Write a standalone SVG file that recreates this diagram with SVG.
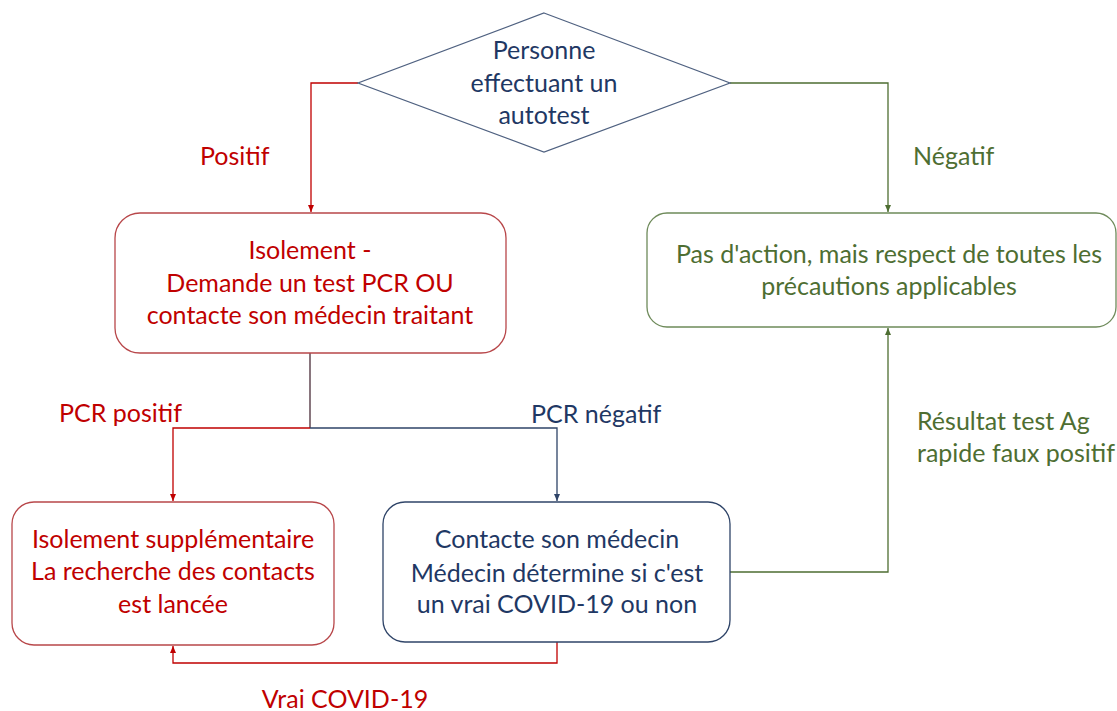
<svg xmlns="http://www.w3.org/2000/svg" width="1117" height="711" viewBox="0 0 1117 711">
<style>
text{font-family:Lato,"Open Sans","Liberation Sans",sans-serif;font-size:25px}
.c{text-anchor:middle}
.red{fill:#C00000}
.grn{fill:#4E6E32}
.nav{fill:#1F3864}
.box{fill:#fff;stroke-width:1.3}
.ln{fill:none;stroke-width:1.3}
</style>
<defs>
<marker id="aR" markerUnits="userSpaceOnUse" markerWidth="8" markerHeight="8" refX="7" refY="4" orient="auto"><path d="M0,1 L7,4 L0,7 Z" fill="#C00000"/></marker>
<marker id="aG" markerUnits="userSpaceOnUse" markerWidth="8" markerHeight="8" refX="7" refY="4" orient="auto"><path d="M0,1 L7,4 L0,7 Z" fill="#4E6E32"/></marker>
<marker id="aB" markerUnits="userSpaceOnUse" markerWidth="8" markerHeight="8" refX="7" refY="4" orient="auto"><path d="M0,1 L7,4 L0,7 Z" fill="#2F4468"/></marker>
</defs>
<rect width="1117" height="711" fill="#fff"/>
<g id="connectors">
<path class="ln" d="M358,83 H311 V212" stroke="#C00000" marker-end="url(#aR)"/>
<path class="ln" d="M730,83 H888 V212" stroke="#4E6E32" marker-end="url(#aG)"/>
<path class="ln" d="M310,353 V428" stroke="#4a2c38"/>
<path class="ln" d="M310,428 H173 V501" stroke="#C00000" marker-end="url(#aR)"/>
<path class="ln" d="M310,428 H557 V501" stroke="#2F4468" marker-end="url(#aB)"/>
<path class="ln" d="M730,572 H888 V328" stroke="#4E6E32" marker-end="url(#aG)"/>
<path class="ln" d="M557,642 V663 H173 V646" stroke="#C00000" marker-end="url(#aR)"/>
<text class="red" x="200" y="165">Positif</text>
<text class="grn" x="913" y="165">Négatif</text>
<text class="red" x="59" y="422">PCR positif</text>
<text class="nav" x="531" y="423">PCR négatif</text>
<text class="grn" x="917" y="430">Résultat test Ag</text>
<text class="grn" x="917" y="462">rapide faux positif</text>
<text class="red c" x="345" y="708">Vrai COVID-19</text>
</g>
<g id="start">
<polygon points="544,13 730,83 544,152 358,83" fill="#fff" stroke="#4F6180" stroke-width="1.2"/>
<text class="nav c" x="544" y="59">Personne</text>
<text class="nav c" x="544" y="92">effectuant un</text>
<text class="nav c" x="544" y="124">autotest</text>
</g>
<g id="isolement">
<rect class="box" x="115" y="213" width="391" height="140" rx="25" stroke="#B8474A"/>
<text class="red c" x="310" y="259">Isolement -</text>
<text class="red c" x="310" y="292">Demande un test PCR OU</text>
<text class="red c" x="310" y="324">contacte son médecin traitant</text>
</g>
<g id="pas-action">
<rect class="box" x="647" y="213" width="469" height="114" rx="20" stroke="#6E8A5A"/>
<text class="grn c" x="889" y="263">Pas d'action, mais respect de toutes les</text>
<text class="grn c" x="889" y="295">précautions applicables</text>
</g>
<g id="isolement-supp">
<rect class="box" x="12" y="502" width="322" height="143" rx="22" stroke="#B8474A"/>
<text class="red c" x="173" y="548">Isolement supplémentaire</text>
<text class="red c" x="173" y="580">La recherche des contacts</text>
<text class="red c" x="173" y="613">est lancée</text>
</g>
<g id="contacte-medecin">
<rect class="box" x="383" y="502" width="347" height="140" rx="22" stroke="#2F4468"/>
<text class="nav c" x="557" y="548">Contacte son médecin</text>
<text class="nav c" x="557" y="582">Médecin détermine si c'est</text>
<text class="nav c" x="557" y="613">un vrai COVID-19 ou non</text>
</g>
</svg>
